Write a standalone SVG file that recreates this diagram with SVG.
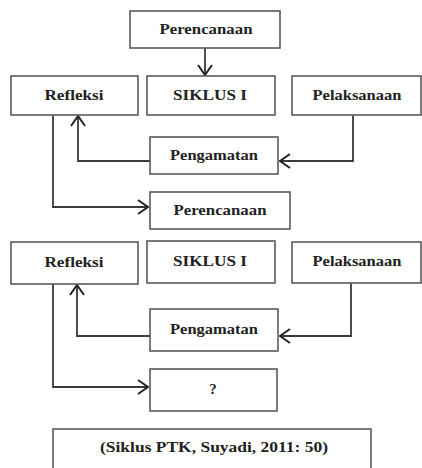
<svg xmlns="http://www.w3.org/2000/svg" width="422" height="468" viewBox="0 0 422 468">
<defs>
<style>
.box{fill:#fff;stroke:#5a5a5a;stroke-width:1.6}
.t{font-family:"Liberation Serif","Times New Roman",serif;font-weight:bold;font-size:15px;fill:#222;text-anchor:middle}
.c{fill:none;stroke:#3a3a3a;stroke-width:1.8}
</style>
<marker id="ah" viewBox="0 0 12 16" refX="11" refY="8" markerWidth="12" markerHeight="16" markerUnits="userSpaceOnUse" orient="auto">
<path d="M1,1 L11,8 L1,15" fill="none" stroke="#222" stroke-width="2"/>
</marker>
</defs>
<rect width="422" height="468" fill="#fff"/>
<g id="connectors">
<path class="c" d="M205,48 V75" marker-end="url(#ah)"/>
<path class="c" d="M353,115 V161 H280" marker-end="url(#ah)"/>
<path class="c" d="M150,161 H78 V116" marker-end="url(#ah)"/>
<path class="c" d="M53,115 V207 H148" marker-end="url(#ah)"/>
<path class="c" d="M351,283 V336 H280" marker-end="url(#ah)"/>
<path class="c" d="M150,336 H77 V285" marker-end="url(#ah)"/>
<path class="c" d="M53,284 V387 H148" marker-end="url(#ah)"/>
</g>
<g id="perencanaan1"><rect class="box" x="130" y="11" width="150" height="37"/><text class="t" x="206" y="34" textLength="93" lengthAdjust="spacingAndGlyphs">Perencanaan</text></g>
<g id="refleksi1"><rect class="box" x="11" y="76" width="127" height="39"/><text class="t" x="74" y="100" textLength="59" lengthAdjust="spacingAndGlyphs">Refleksi</text></g>
<g id="siklus1"><rect class="box" x="147" y="76" width="128" height="39"/><text class="t" x="210" y="100" textLength="74" lengthAdjust="spacingAndGlyphs">SIKLUS I</text></g>
<g id="pelaksanaan1"><rect class="box" x="292" y="76" width="129" height="39"/><text class="t" x="357" y="100" textLength="89" lengthAdjust="spacingAndGlyphs">Pelaksanaan</text></g>
<g id="pengamatan1"><rect class="box" x="150" y="137" width="128" height="37"/><text class="t" x="214" y="160" textLength="88" lengthAdjust="spacingAndGlyphs">Pengamatan</text></g>
<g id="perencanaan2"><rect class="box" x="150" y="192" width="140" height="37"/><text class="t" x="220" y="215" textLength="93" lengthAdjust="spacingAndGlyphs">Perencanaan</text></g>
<g id="refleksi2"><rect class="box" x="11" y="242" width="127" height="42"/><text class="t" x="74" y="267" textLength="59" lengthAdjust="spacingAndGlyphs">Refleksi</text></g>
<g id="siklus2"><rect class="box" x="147" y="241" width="128" height="42"/><text class="t" x="210" y="266" textLength="74" lengthAdjust="spacingAndGlyphs">SIKLUS I</text></g>
<g id="pelaksanaan2"><rect class="box" x="292" y="242" width="129" height="41"/><text class="t" x="357" y="266" textLength="89" lengthAdjust="spacingAndGlyphs">Pelaksanaan</text></g>
<g id="pengamatan2"><rect class="box" x="150" y="309" width="128" height="42"/><text class="t" x="214" y="334" textLength="88" lengthAdjust="spacingAndGlyphs">Pengamatan</text></g>
<g id="tanya"><rect class="box" x="150" y="369" width="127" height="42"/><text class="t" x="213" y="394">?</text></g>
<g id="sumber"><rect class="box" x="53" y="429" width="318" height="45"/><text class="t" x="214" y="452" textLength="228" lengthAdjust="spacingAndGlyphs">(Siklus PTK, Suyadi,  2011: 50)</text></g>
</svg>
